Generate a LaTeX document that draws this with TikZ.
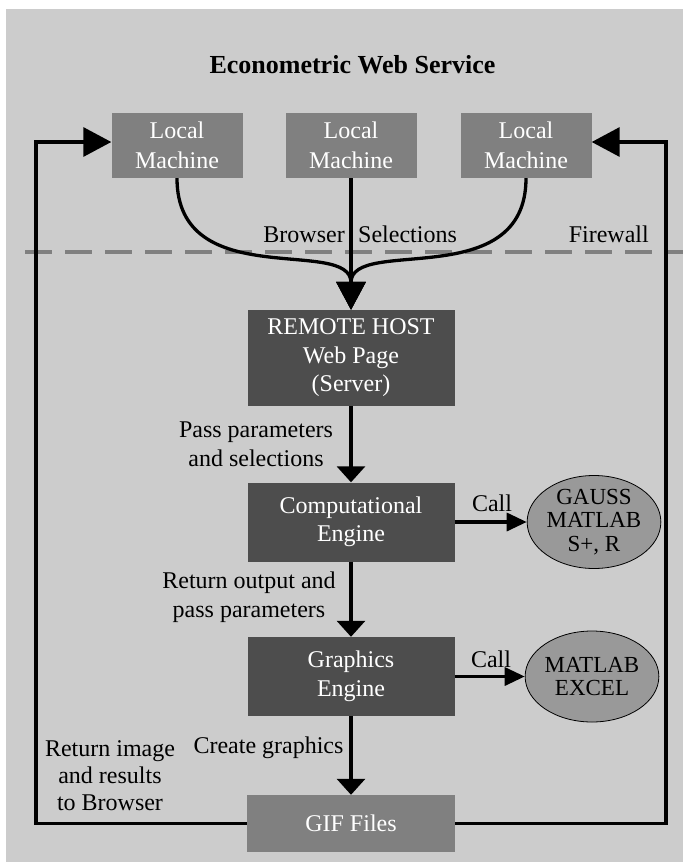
\documentclass[tikz,border=0pt]{standalone}
\usepackage{fontspec}
\setmainfont{Liberation Serif}
\usetikzlibrary{arrows.meta, shapes.geometric}
\definecolor{bggray}{HTML}{CCCCCC}
\definecolor{boxgray}{HTML}{808080}
\definecolor{darkbox}{HTML}{4D4D4D}
\definecolor{ellgray}{HTML}{999999}

\begin{document}
\begin{tikzpicture}[x=1pt, y=-1pt,
    localbox/.style={fill=boxgray, text=white, minimum width=131pt, minimum height=65pt,
      align=center, inner sep=0pt, font=\fontsize{24}{30}\selectfont},
    hostbox/.style={fill=darkbox, text=white, minimum width=207pt, align=center,
      inner sep=0pt, font=\fontsize{24}{28.5}\selectfont},
    toolell/.style={ellipse, draw=black, line width=0.8pt, fill=ellgray, inner sep=0pt,
      minimum width=120pt, minimum height=91pt, align=center, font=\fontsize{23}{23.5}\selectfont},
    lbl/.style={align=center, inner sep=0pt, font=\fontsize{24}{29}\selectfont},
    flow/.style={line width=3.3pt, -{Triangle[length=16pt,width=28pt]}},
    bigflow/.style={line width=3.3pt, -{Triangle[length=28pt,width=29pt]}},
    callflow/.style={line width=3.3pt, -{Triangle[length=20pt,width=18pt]}}]
  \useasboundingbox (0,0) rectangle (683,863);
  \fill[bggray] (6,9) rectangle (683,862);

  \node[anchor=base, inner sep=0pt, font=\bfseries\fontsize{26}{30}\selectfont] (title) at (352.5,73) {Econometric Web Service};

  % local side
  \node[localbox] (lm1) at (177,145.5) {Local\\Machine};
  \node[localbox] (lm2) at (351,145.5) {Local\\Machine};
  \node[localbox] (lm3) at (526,145.5) {Local\\Machine};

  \draw[boxgray, line width=4pt, dash pattern=on 27pt off 13pt] (25,251.5) -- (683,251.5);
  \node[lbl, anchor=base east] (brw) at (345,242) {Browser};
  \node[lbl, anchor=base west] (sel) at (358,242) {Selections};
  \node[lbl, anchor=base east] (fw) at (649,242) {Firewall};

  % remote side
  \node[hostbox, minimum height=96pt] (host) at (351,358) {REMOTE HOST\\Web Page\\(Server)};
  \node[hostbox, minimum height=79pt] (comp) at (351,522) {Computational\\Engine};
  \node[hostbox, minimum height=79pt] (gfx) at (351,676.5) {Graphics\\Engine};
  \node[localbox, minimum width=208pt, minimum height=57pt] (gif) at (351,823.5) {GIF Files};

  \node[toolell] (ell1) at (594,522) {GAUSS\\MATLAB\\S+, R};
  \node[toolell, minimum width=119pt, font=\fontsize{23}{23}\selectfont] (ell2) at (592,676.5) {MATLAB\\EXCEL};

  \node[lbl] (pass) at (256,444.5) {Pass parameters\\and selections};
  \node[lbl] (retout) at (249,597) {Return output and\\pass parameters};
  \node[lbl, anchor=base] (create) at (268.5,753) {Create graphics};
  \node[lbl, font=\fontsize{24}{27}\selectfont] (retimg) at (110,775.5) {Return image\\and results\\to Browser};
  \node[lbl, anchor=base] (call1) at (492,511.5) {Call};
  \node[lbl, anchor=base] (call2) at (491,667) {Call};

  % connectors
  \draw[bigflow] (lm1.south) .. controls +(0,116) and +(0,-74) .. (host.north);
  \draw[bigflow] (lm3.south) .. controls +(0,116) and +(0,-74) .. (host.north);
  \draw[bigflow] (lm2.south) -- (host.north);
  \draw[flow] (host.south) -- (comp.north);
  \draw[flow] (comp.south) -- (gfx.north);
  \draw[flow] (gfx.south) -- (gif.north);
  \draw[callflow] (comp.east) -- (ell1.west);
  \draw[callflow] (gfx.east) -- (ell2.west);

  \coordinate (fbl) at (36,142);
  \coordinate (fbr) at (666,142);
  \draw[bigflow] (gif.west) -| (fbl) -- (fbl -| lm1.west);
  \draw[bigflow] (gif.east) -| (fbr) -- (fbr -| lm3.east);
\end{tikzpicture}
\end{document}
